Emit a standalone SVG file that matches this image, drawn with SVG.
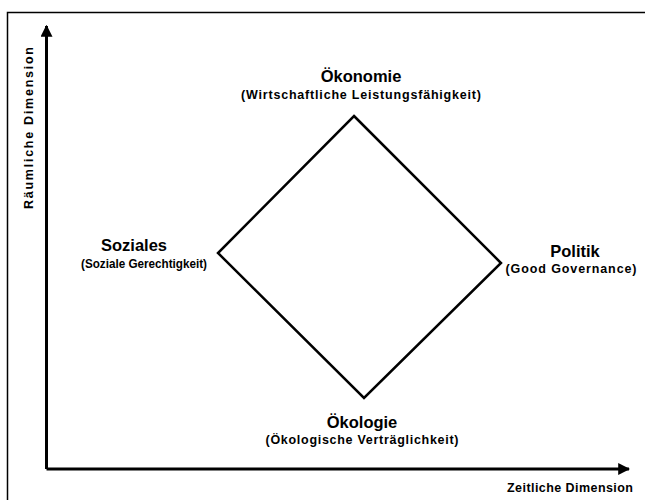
<svg xmlns="http://www.w3.org/2000/svg" width="645" height="500" viewBox="0 0 645 500">
<style>
.t{font-family:"Liberation Sans",Arial,sans-serif;font-weight:bold;fill:#000}
.h{font-size:16.5px}
.s{font-size:12.5px}
.ax{stroke:#000;stroke-width:3;fill:none}
</style>
<defs>
<marker id="ah" viewBox="0 0 10 10" refX="9" refY="5" markerWidth="4" markerHeight="4" orient="auto" markerUnits="strokeWidth">
<path d="M0,0 L10,5 L0,10 z" fill="#000"/>
</marker>
</defs>
<rect width="645" height="500" fill="#fff"/>
<path d="M7.5,505 V12.5 H650" stroke="#000" stroke-width="1.5" fill="none"/>
<g id="connectors">
<path class="ax" d="M46.5,469 V26" marker-end="url(#ah)"/>
<path class="ax" d="M46.5,469 H629" marker-end="url(#ah)"/>
<polygon points="354,116 501,263 364,398 218,253" fill="none" stroke="#000" stroke-width="2.5" stroke-linejoin="miter"/>
</g>
<g id="oekonomie">
<text class="t h" x="361" y="82" text-anchor="middle">Ökonomie</text>
<text class="t s" x="361" y="99" text-anchor="middle" textLength="240" lengthAdjust="spacing">(Wirtschaftliche Leistungsfähigkeit)</text>
</g>
<g id="soziales">
<text class="t h" x="134" y="251" text-anchor="middle">Soziales</text>
<text class="t s" x="144" y="268" text-anchor="middle" textLength="126" lengthAdjust="spacingAndGlyphs">(Soziale Gerechtigkeit)</text>
</g>
<g id="politik">
<text class="t h" x="575" y="257" text-anchor="middle">Politik</text>
<text class="t s" x="571" y="273" text-anchor="middle" textLength="131" lengthAdjust="spacing">(Good Governance)</text>
</g>
<g id="oekologie">
<text class="t h" x="362" y="428" text-anchor="middle">Ökologie</text>
<text class="t s" x="362" y="444" text-anchor="middle" textLength="193" lengthAdjust="spacing">(Ökologische Verträglichkeit)</text>
</g>
<g id="axis-labels">
<text class="t s" x="633" y="492" text-anchor="end" textLength="126" lengthAdjust="spacing">Zeitliche Dimension</text>
<text class="t s" transform="translate(33,128) rotate(-90)" text-anchor="middle" textLength="162" lengthAdjust="spacing">Räumliche Dimension</text>
</g>
</svg>
